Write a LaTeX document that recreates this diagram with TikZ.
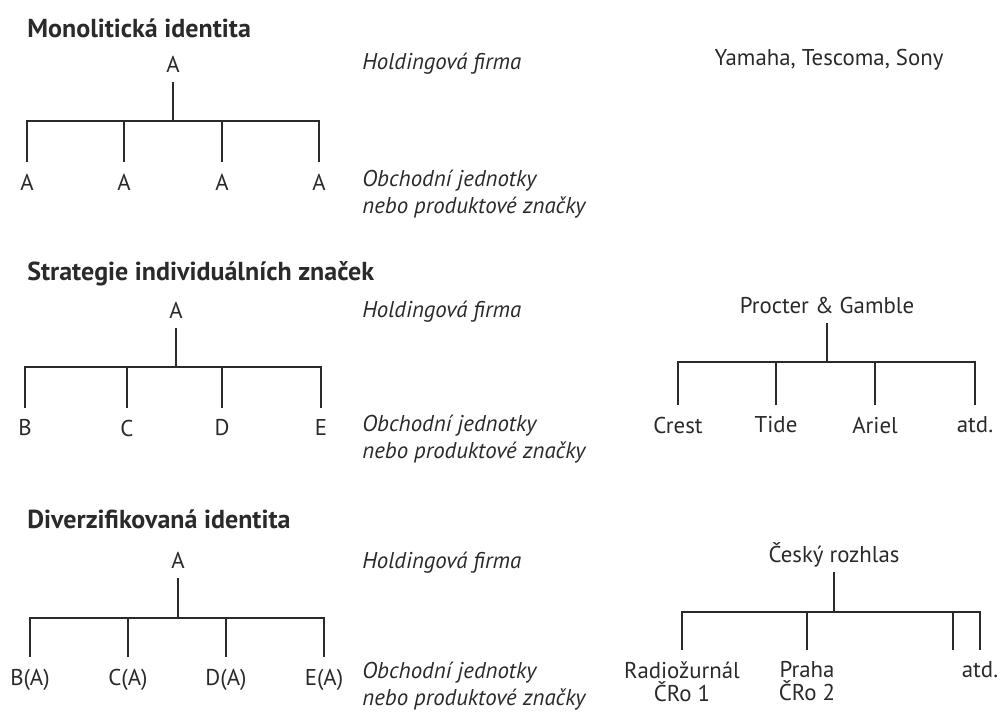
\documentclass[tikz,border=0pt]{standalone}
\usepackage{fontspec}
\setmainfont{PT Sans}
\definecolor{ink}{HTML}{2A2A2A}

\begin{document}
\begin{tikzpicture}[x=0.02cm, y=-0.02cm,
  every node/.style={font=\fontsize{13}{16}\selectfont, align=center, text=ink},
  heading/.style={anchor=west, inner sep=0pt, font=\fontsize{14.8}{17}\selectfont\bfseries},
  note/.style={anchor=west, inner sep=0pt, align=left, font=\fontsize{13}{15.5}\selectfont\itshape},
  rootbox/.style={anchor=south, inner ysep=5pt, text depth=0pt},
  leafbox/.style={anchor=north, inner ysep=6.5pt},
  link/.style={draw=ink, line width=0.85pt}]
  \useasboundingbox (0,0) rectangle (1006,713);

  % Monoliticka identita
  \node[heading] (monoTitle) at (27,28) {Monolitická identita};
  \node[rootbox] (monoRoot) at (173,82) {A};
  \coordinate (monoJoin) at (173,121);
  \node[leafbox] (monoA1) at (27,162) {A};
  \node[leafbox] (monoA2) at (124,162) {A};
  \node[leafbox] (monoA3) at (222,162) {A};
  \node[leafbox] (monoA4) at (319,162) {A};
  \node[note] (monoHolding) at (362,64) {Holdingová firma};
  \node[note] (monoUnits) at (362,194) {Obchodní jednotky\\nebo produktové značky};
  \node (monoExample) at (829,60) {Yamaha, Tescoma, Sony};

  \draw[link] (monoRoot.south) -- (monoJoin);
  \draw[link] (monoA1.north) |- (monoJoin);
  \draw[link] (monoA2.north) |- (monoJoin);
  \draw[link] (monoA3.north) |- (monoJoin);
  \draw[link] (monoA4.north) |- (monoJoin);

  % Strategie individualnich znacek
  \node[heading] (indivTitle) at (27,274) {Strategie individuálních značek};
  \node[rootbox] (indivRoot) at (176,328) {A};
  \coordinate (indivJoin) at (176,367);
  \node[leafbox] (indivB) at (25,408) {B};
  \node[leafbox] (indivC) at (127,408) {C};
  \node[leafbox] (indivD) at (222,408) {D};
  \node[leafbox] (indivE) at (321,408) {E};
  \node[note] (indivHolding) at (362,312) {Holdingová firma};
  \node[note] (indivUnits) at (362,439) {Obchodní jednotky\\nebo produktové značky};

  \node[rootbox] (pgRoot) at (827,323) {Procter \& Gamble};
  \coordinate (pgJoin) at (827,362);
  \node[leafbox] (pgCrest) at (678,405) {Crest};
  \node[leafbox] (pgTide) at (776,405) {Tide};
  \node[leafbox] (pgAriel) at (875,405) {Ariel};
  \node[leafbox] (pgMore) at (975,405) {atd.};

  \draw[link] (indivRoot.south) -- (indivJoin);
  \draw[link] (indivB.north) |- (indivJoin);
  \draw[link] (indivC.north) |- (indivJoin);
  \draw[link] (indivD.north) |- (indivJoin);
  \draw[link] (indivE.north) |- (indivJoin);
  \draw[link] (pgRoot.south) -- (pgJoin);
  \draw[link] (pgCrest.north) |- (pgJoin);
  \draw[link] (pgTide.north) |- (pgJoin);
  \draw[link] (pgAriel.north) |- (pgJoin);
  \draw[link] (pgMore.north) |- (pgJoin);

  % Diverzifikovana identita
  \node[heading] (diverTitle) at (27,519) {Diverzifikovaná identita};
  \node[rootbox] (diverRoot) at (178,578) {A};
  \coordinate (diverJoin) at (178,618);
  \node[leafbox] (diverB) at (30,657) {B(A)};
  \node[leafbox] (diverC) at (128,657) {C(A)};
  \node[leafbox] (diverD) at (226,657) {D(A)};
  \node[leafbox] (diverE) at (324,657) {E(A)};
  \node[note] (diverHolding) at (362,563) {Holdingová firma};
  \node[note] (diverUnits) at (362,686) {Obchodní jednotky\\nebo produktové značky};

  \node[rootbox] (crRoot) at (834,572) {Český rozhlas};
  \coordinate (crJoin) at (834,612);
  \node[leafbox, font=\fontsize{13}{13}\selectfont] (crRadio) at (682,650) {Radiožurnál\\ČRo 1};
  \node[leafbox, font=\fontsize{13}{13}\selectfont] (crPraha) at (807,650) {Praha\\ČRo 2};
  \coordinate (crExtra) at (953,650);
  \node[leafbox] (crMore) at (980,650) {atd.};

  \draw[link] (diverRoot.south) -- (diverJoin);
  \draw[link] (diverB.north) |- (diverJoin);
  \draw[link] (diverC.north) |- (diverJoin);
  \draw[link] (diverD.north) |- (diverJoin);
  \draw[link] (diverE.north) |- (diverJoin);
  \draw[link] (crRoot.south) -- (crJoin);
  \draw[link] (crRadio.north) |- (crJoin);
  \draw[link] (crPraha.north) |- (crJoin);
  \draw[link] (crExtra) |- (crJoin);
  \draw[link] (crMore.north) |- (crJoin);
\end{tikzpicture}
\end{document}
